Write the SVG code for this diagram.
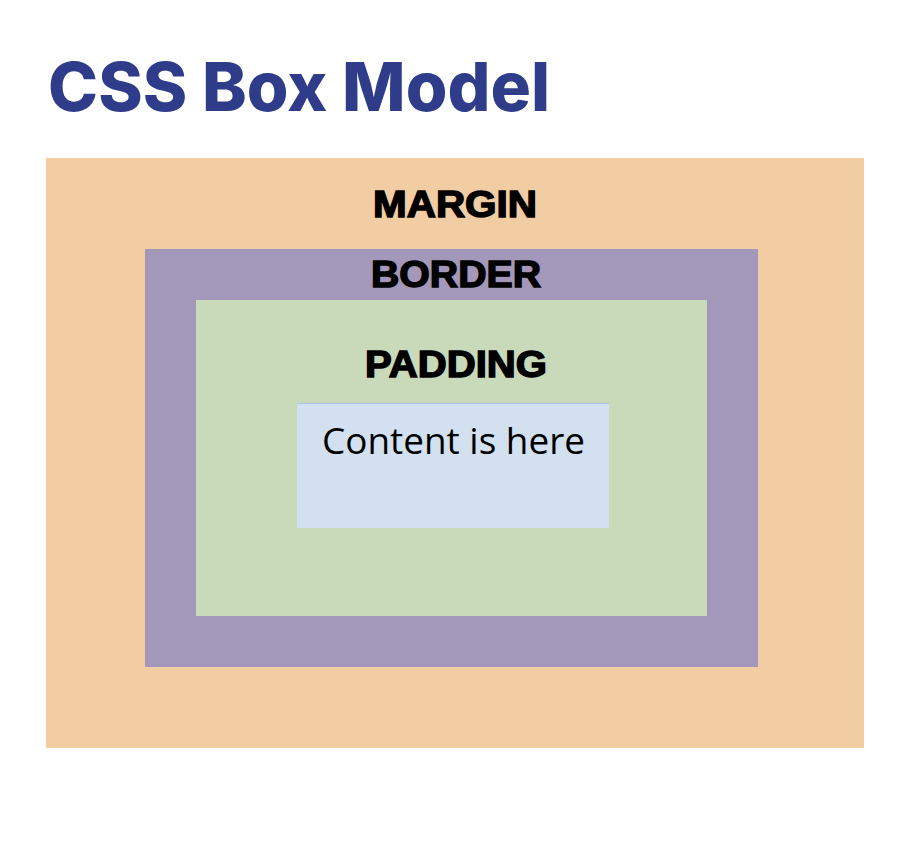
<svg xmlns="http://www.w3.org/2000/svg" width="918" height="868" viewBox="0 0 918 868">
<style>
.lbl{font-family:"Liberation Sans",Arial,sans-serif;font-weight:bold;font-size:36px;fill:#000;stroke:#000;stroke-width:1.4px;text-anchor:start}
</style>
<rect width="918" height="868" fill="#fff"/>
<text x="48" y="111" font-family="Inter,'Liberation Sans',sans-serif" font-weight="800" font-size="68" fill="#2E3C8A" textLength="502" lengthAdjust="spacingAndGlyphs">CSS Box Model</text>
<g id="margin">
<rect x="46" y="158" width="818" height="590" fill="#F2CDA3"/>
<text class="lbl" x="373" y="217" textLength="164" lengthAdjust="spacingAndGlyphs">MARGIN</text>
</g>
<g id="border">
<rect x="145" y="249" width="613" height="418" fill="#A498BA"/>
<text class="lbl" x="371" y="287" textLength="170" lengthAdjust="spacingAndGlyphs">BORDER</text>
</g>
<g id="padding">
<rect x="196" y="300" width="511" height="316" fill="#C8DABA"/>
<text class="lbl" x="365" y="377" textLength="182" lengthAdjust="spacingAndGlyphs">PADDING</text>
</g>
<g id="content">
<rect x="297" y="403" width="312" height="125" fill="#D3E0F0"/>
<line x1="297" y1="403.5" x2="609" y2="403.5" stroke="#A9C4E4" stroke-width="1"/>
<text x="322" y="454" font-family="'Open Sans','Noto Sans',sans-serif" font-size="37" fill="#000" textLength="263" lengthAdjust="spacingAndGlyphs">Content is here</text>
</g>
<g id="connectors"/>
</svg>
